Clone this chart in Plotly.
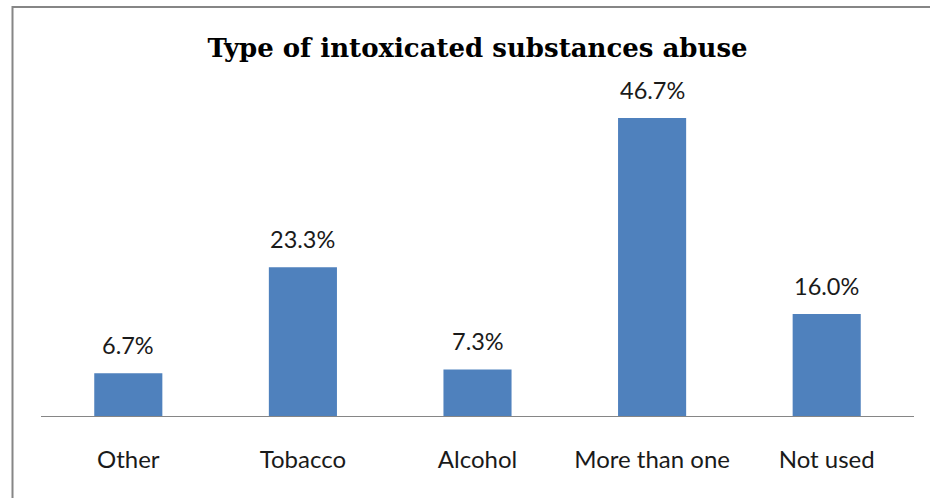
import plotly.graph_objects as go

categories = ["Other", "Tobacco", "Alcohol", "More than one", "Not used"]
values = [6.7, 23.3, 7.3, 46.7, 16.0]
labels = ["6.7%", "23.3%", "7.3%", "46.7%", "16.0%"]

W, H = 930, 498
L, R, T, B = 41, 16, 97, 82

fig = go.Figure(go.Bar(x=categories, y=values, marker=dict(color="#4F81BD", line=dict(width=0)),
                       hoverinfo="skip"))

for c, v, t in zip(categories, values, labels):
    fig.add_annotation(x=c, y=v, text=t, showarrow=False, yanchor="bottom", yshift=12,
                       font=dict(family="Lato", size=23.5, color="#1a1a1a"))

pw = W - L - R
ph = H - T - B
fig.add_shape(type="rect", xref="paper", yref="paper",
              x0=(12.5 - L) / pw, x1=(940 - L) / pw,
              y0=((H - B) - 510) / ph, y1=((H - B) - 7) / ph,
              line=dict(color="#868686", width=2), fillcolor="rgba(0,0,0,0)", layer="below")

fig.update_layout(
    width=W, height=H,
    margin=dict(l=L, r=R, t=T, b=B),
    paper_bgcolor="white", plot_bgcolor="white",
    bargap=0.61,
    showlegend=False,
    title=dict(text="<b>Type of intoxicated substances abuse</b>", x=477.5 / W, xanchor="center",
               yref="container", y=1 - 48 / H, yanchor="middle",
               font=dict(family="DejaVu Serif", size=26, color="black")),
    xaxis=dict(showline=True, linecolor="#868686", linewidth=1, ticks="", showgrid=False,
               tickfont=dict(family="Lato", size=24, color="#1a1a1a"), ticklabelstandoff=22),
    yaxis=dict(range=[0, 50], visible=False, showgrid=False),
)

fig.write_html("out.html")
